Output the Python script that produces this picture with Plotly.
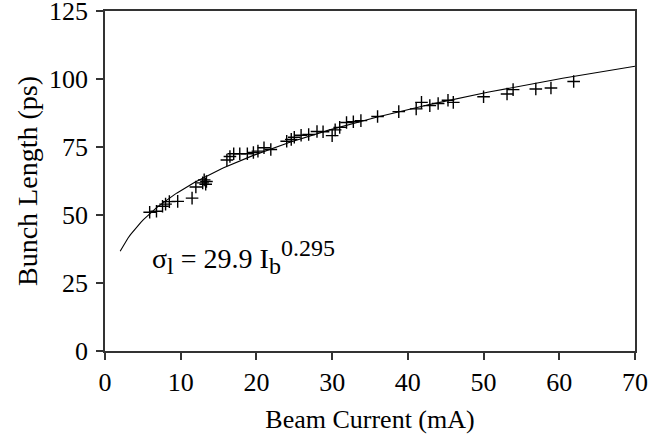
import numpy as np
import plotly.graph_objects as go

# Measured bunch length vs beam current
current_ma = [5.9, 6.8, 7.6, 8.0, 8.5, 9.6, 11.5, 12.0, 12.9, 13.1, 13.3, 13.4,
              16.1, 16.5, 17.0, 17.8, 18.8, 19.6, 20.2, 21.0, 21.9,
              24.0, 24.6, 25.0, 25.9, 26.9, 28.0, 28.8, 30.0, 30.4, 31.0, 31.9, 32.8, 33.8,
              36.0, 38.8, 41.1, 41.8, 42.9, 44.0, 45.3, 46.0,
              50.0, 53.1, 53.9, 56.9, 58.9, 61.9]
bunch_ps = [51.0, 51.4, 53.2, 54.0, 54.9, 55.0, 56.2, 60.3, 61.8, 62.9, 61.3, 62.3,
            70.2, 71.5, 72.5, 72.5, 72.5, 73.0, 73.5, 74.7, 74.1,
            77.1, 77.8, 78.6, 79.3, 79.6, 80.7, 80.6, 79.2, 81.3, 82.2, 84.0, 84.3, 84.7,
            86.2, 88.0, 89.0, 91.4, 90.2, 91.0, 92.2, 91.4,
            93.5, 94.5, 96.1, 96.3, 96.7, 99.1]

# Power-law fit shown on the chart: sigma_l = A * I_b^B
fit_a = 29.9
fit_b = 0.295
fit_range = [2, 70]

x_ticks = [0, 10, 20, 30, 40, 50, 60, 70]
y_ticks = [0, 25, 50, 75, 100, 125]

fit_x = np.linspace(fit_range[0], fit_range[1], 200)
fit_y = fit_a * fit_x ** fit_b

FONT = "'Liberation Serif', 'DejaVu Serif', 'Times New Roman', serif"

fig = go.Figure()
fig.add_trace(go.Scatter(x=fit_x, y=fit_y, mode="lines",
                         line=dict(color="black", width=1.1), showlegend=False,
                         hoverinfo="skip"))
fig.add_trace(go.Scatter(x=current_ma, y=bunch_ps, mode="markers",
                         marker=dict(symbol="cross-thin", size=9,
                                     line=dict(color="black", width=1.4)),
                         showlegend=False))

small = '<span style="font-size:24px">{}</span>'
fig.add_annotation(x=6.0, y=34.5, xref="x", yref="y", xanchor="left", yanchor="middle",
                   text=("σ<sub>" + small.format("l") + "</sub> = " + f"{fit_a} I<sub>"
                         + small.format("b") + "</sub><sup>" + small.format(fit_b) + "</sup>"),
                   showarrow=False, font=dict(family=FONT, size=28, color="black"))

axis_common = dict(showgrid=False, zeroline=False, showline=True, mirror=True,
                   linecolor="#333333", linewidth=1.5, ticks="outside", ticklen=7,
                   tickwidth=1.5, tickcolor="#333333", automargin=False,
                   ticklabeloverflow="allow",
                   tickfont=dict(family=FONT, size=26, color="black"))

fig.update_xaxes(range=[0, 70], tickvals=x_ticks, ticktext=[str(v) for v in x_ticks],
                 title=dict(text="Beam Current (mA)", font=dict(family=FONT, size=26, color="black"),
                            standoff=14),
                 **axis_common)
fig.update_yaxes(range=[0, 125], tickvals=y_ticks, ticktext=[str(v) for v in y_ticks],
                 ticklabelstandoff=3,
                 title=dict(text="Bunch Length (ps)", font=dict(family=FONT, size=28, color="black"),
                            standoff=3),
                 **axis_common)

fig.update_layout(width=672, height=439, margin=dict(l=105, r=37, t=11, b=88, autoexpand=False),
                  font=dict(family=FONT, size=25, color="black"),
                  plot_bgcolor="white", paper_bgcolor="white")

fig.write_html("out.html", config={"displayModeBar": False},
               post_script="document.body.style.margin='0px';")
